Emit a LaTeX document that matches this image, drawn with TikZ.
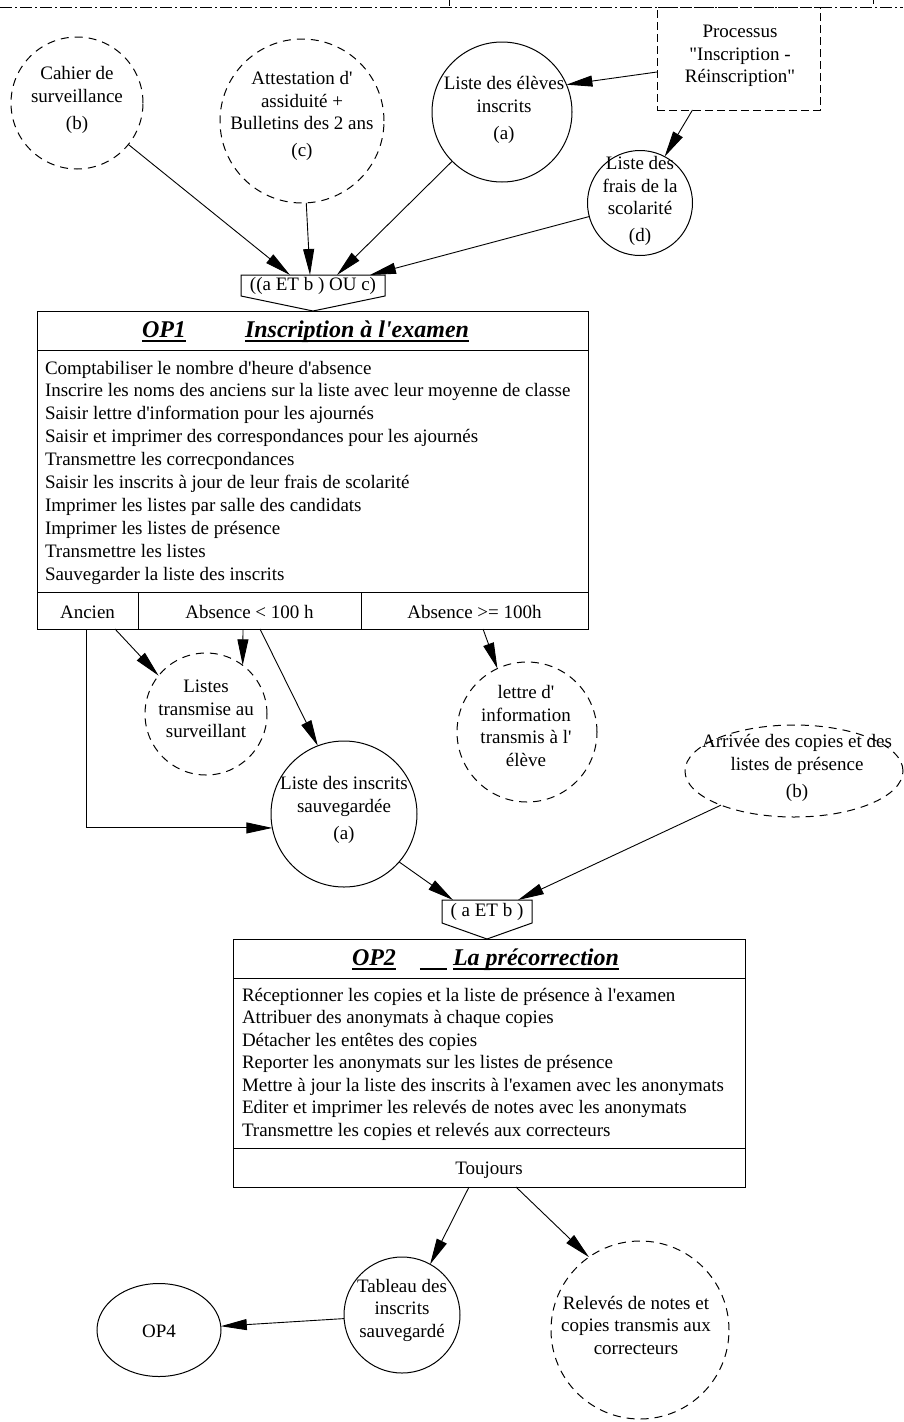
\documentclass[tikz,border=0pt]{standalone}
\usepackage{fontspec}
\setmainfont{Liberation Serif}[Ligatures=TeXOff]
\usetikzlibrary{arrows.meta,shapes.geometric,calc}

\begin{document}
\begin{tikzpicture}[x=1pt, y=-1pt,
  every node/.style={inner sep=0pt, outer sep=0pt, font=\fontsize{19}{22.5}\selectfont},
  line width=0.9pt,
  arr/.style={-{Triangle[length=26pt,width=11pt]}},
  data/.style={circle, draw, line width=1pt},
  flow/.style={data, dash pattern=on 8pt off 6pt},
  txt/.style={align=center},
  itm/.style={anchor=base west},
  ttl/.style={anchor=base west, font=\fontsize{24}{28}\selectfont\bfseries\itshape},
  cell/.style={anchor=base},
  frame/.style={draw, line width=1pt, anchor=north west},
  uline/.style={line width=1.3pt},
]
\useasboundingbox (0,0) rectangle (903,1422);

% frame line along the top
\coordinate (tl) at (0,7);
\coordinate (tr) at (903,7);
\draw[line width=1pt, dash pattern=on 12pt off 3pt on 2pt off 3pt] (tl) -- (tr);
\draw (449,0) -- (449,6);
\draw (873,0) -- (873,4);

% ---------- inputs of OP1 ----------
\node[flow, minimum size=132pt] (cahier) at (77,103) {};
\node[txt] (cahier-t) at (77,100) {Cahier de\\surveillance\\[4.5pt](b)};

\node[flow, minimum size=164pt] (attest) at (302,121) {};
\node[txt] (attest-t) at (302,116) {Attestation d'\\assiduité +\\Bulletins des 2 ans\\[4.5pt](c)};

\node[data, minimum size=140pt] (eleves) at (502,112) {};
\node[txt] (eleves-t) at (504,110) {Liste des élèves\\inscrits\\[4.5pt](a)};

\node[frame, dash pattern=on 8pt off 4pt, minimum width=163pt, minimum height=103pt] (proc) at (657,7) {};
\node[txt] (proc-t) at (740,56) {Processus\\"Inscription -\\Réinscription"};

\node[data, minimum size=105pt] (frais) at (640,203) {};
\node[txt] (frais-t) at (640,201) {Liste des\\frais de la\\scolarité\\[4.5pt](d)};

% ---------- condition of OP1 ----------
\node[minimum width=144pt, minimum height=21pt] (c1) at (313,285.5) {((a ET b ) OU c)};
\draw[line width=1pt] (c1.north west) -- (c1.north east) -- (c1.south east)
  -- ($(c1.south)+(0,15)$) -- (c1.south west) -- cycle;

% ---------- OP1 ----------
\node[frame, minimum width=551pt, minimum height=318pt] (op1) at (37,311) {};
\draw (37,350) -- (588,350);
\draw (37,592) -- (588,592);
\draw (138,592) -- (138,629);
\draw (361,592) -- (361,629);
\node[ttl] (op1n) at (142,337) {OP1};
\node[ttl] (op1t) at (245,337) {Inscription à l'examen};
\draw[uline] ($(op1n.base west)+(0,4)$) -- ($(op1n.base east)+(0,4)$);
\draw[uline] ($(op1t.base west)+(0,4)$) -- ($(op1t.base east)+(0,4)$);
\foreach \t [count=\i] in {
  Comptabiliser le nombre d'heure d'absence,
  Inscrire les noms des anciens sur la liste avec leur moyenne de classe,
  Saisir lettre d'information pour les ajournés,
  Saisir et imprimer des correspondances pour les ajournés,
  Transmettre les correcpondances,
  Saisir les inscrits à jour de leur frais de scolarité,
  Imprimer les listes par salle des candidats,
  Imprimer les listes de présence,
  Transmettre les listes,
  Sauvegarder la liste des inscrits}
  \node[itm] (op1i\i) at (45,{374+22.9*(\i-1)}) {\t};
\node[cell] (op1a) at (87.5,618) {Ancien};
\node[cell] (op1b) at (249.5,618) {Absence < 100 h};
\node[cell] (op1c) at (474.5,618) {Absence >= 100h};

% ---------- outputs of OP1 ----------
\node[flow, minimum size=122pt] (listes) at (206,714) {};
\node[txt] (listes-t) at (206,709) {Listes\\transmise au\\surveillant};

\node[data, minimum size=146pt] (sauv) at (344,814) {};
\node[txt] (sauv-t) at (344,810) {Liste des inscrits\\sauvegardée\\[4.5pt](a)};

\node[flow, minimum size=140pt] (lettre) at (527,732) {};
\node[txt] (lettre-t) at (526,726) {lettre d'\\information\\transmis à l'\\élève};

\node[ellipse, draw, line width=1pt, dash pattern=on 8pt off 6pt,
      minimum width=218pt, minimum height=92pt] (arrivee) at (794,771) {};
\node[txt] (arrivee-t) at (797,768) {Arrivée des copies et des\\listes de présence\\[4.5pt](b)};

% ---------- condition of OP2 ----------
\node[minimum width=90pt, minimum height=23pt] (c2) at (487,911.5) {( a ET b )};
\draw[line width=1pt] (c2.north west) -- (c2.north east) -- (c2.south east)
  -- ($(c2.south)+(0,16)$) -- (c2.south west) -- cycle;

% ---------- OP2 ----------
\node[frame, minimum width=512pt, minimum height=248pt] (op2) at (233,939) {};
\draw (233,978) -- (745,978);
\draw (233,1148) -- (745,1148);
\node[ttl] (op2n) at (352,965) {OP2};
\node[ttl] (op2t) at (453,965) {La précorrection};
\draw[uline] ($(op2n.base west)+(0,4)$) -- ($(op2n.base east)+(0,4)$);
\draw[uline] ($(op2n.base east)+(24,4)$) -- ($(op2t.base west)+(-6,4)$);
\draw[uline] ($(op2t.base west)+(0,4)$) -- ($(op2t.base east)+(0,4)$);
\foreach \t [count=\i] in {
  Réceptionner les copies et la liste de présence à l'examen,
  Attribuer des anonymats à chaque copies,
  Détacher les entêtes des copies,
  Reporter les anonymats sur les listes de présence,
  Mettre à jour la liste des inscrits à l'examen avec les anonymats,
  Editer et imprimer les relevés de notes avec les anonymats,
  Transmettre les copies et relevés aux correcteurs}
  \node[itm] (op2i\i) at (242,{1001+22.5*(\i-1)}) {\t};
\node[cell] (op2a) at (489,1174) {Toujours};

% ---------- outputs of OP2 ----------
\node[data, minimum size=116pt] (tab) at (402,1315) {};
\node[txt] (tab-t) at (402,1310) {Tableau des\\inscrits\\sauvegardé};

\node[ellipse, draw, line width=1pt, minimum width=124pt, minimum height=93pt] (op4) at (159,1330) {};
\node (op4-t) at (159,1331) {OP4};

\node[flow, minimum size=178pt] (rel) at (640,1330) {};
\node[txt] (rel-t) at (636,1325) {Relevés de notes et\\copies transmis aux\\correcteurs};

% ---------- connectors ----------
\draw[arr] (proc.west |- 0,72) -- (eleves.23);
\draw[arr] ($(proc.south)+(-46,0)$) -- (frais.62);
\draw[arr] (cahier) -- ($(c1.north west)+(49,0)$);
\draw[arr] (attest) -- ($(c1.north west)+(69,0)$);
\draw[arr] (eleves) -- ($(c1.north west)+(96,0)$);
\draw[arr] (frais) -- ($(c1.north west)+(129,0)$);

\draw[arr] ($(op1.south west)+(49,0)$) |- (sauv.191);
\draw[arr] ($(op1.south west)+(78,0)$) -- (listes.141);
\draw[arr] ($(op1.south west)+(206,0)$) -- (listes.53);
\draw[arr] ($(op1.south west)+(223,0)$) -- (sauv.111);
\draw[arr] ($(op1.south west)+(446,0)$) -- (lettre.115);

\draw[arr] (sauv.-41) -- ($(c2.north west)+(11,0)$);
\draw[arr] (arrivee) -- ($(c2.north east)+(-14,0)$);

\draw[arr] ($(op2.south west)+(236,0)$) -- (tab.61);
\draw[arr] ($(op2.south west)+(283,0)$) -- (rel.125);
\draw[arr] (tab) -- (op4);
\end{tikzpicture}
\end{document}
